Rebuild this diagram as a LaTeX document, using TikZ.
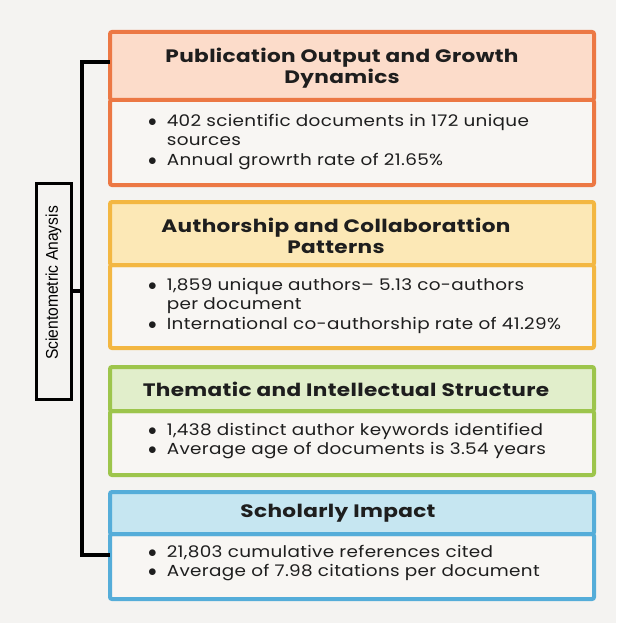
\documentclass[tikz,border=0pt]{standalone}
\usepackage{fontspec}
\setmainfont{Poppins}
\newfontfamily\bodyfont[FakeStretch=1.15,LetterSpace=2]{Poppins}
\newfontfamily\titlefont[FakeStretch=1.2,LetterSpace=2,BoldFont={* Bold}]{Poppins}
\newfontfamily\narrowfont[FakeStretch=0.92]{Liberation Sans}
\definecolor{bgc}{HTML}{F4F3F1}
\definecolor{bodyc}{HTML}{F8F6F3}
\definecolor{oc}{HTML}{EC7844}
\definecolor{oh}{HTML}{FCDCCA}
\definecolor{yc}{HTML}{F3B742}
\definecolor{yh}{HTML}{FCE8B6}
\definecolor{gc}{HTML}{9DC54C}
\definecolor{gh}{HTML}{E1EECB}
\definecolor{bc}{HTML}{55ADD9}
\definecolor{bh}{HTML}{C6E6F1}
\definecolor{txt}{HTML}{1E1E1E}
\tikzset{
  hdr/.style={anchor=north west, minimum width=484pt, line width=4pt, rounded corners=2pt, inner sep=0pt},
  ttl/.style={inner sep=0pt, align=center, text=txt, font=\titlefont\fontsize{18}{21}\selectfont\bfseries},
  bdy/.style={anchor=north west, minimum width=484pt, line width=4pt, rounded corners=2pt,
    fill=bodyc, inner sep=0pt},
  bl/.style={anchor=west, inner sep=0pt, text=txt, font=\bodyfont\fontsize{16}{19.3}\selectfont, align=left},
  conn/.style={line width=3.2pt, line cap=rect},
}
\newcommand{\bdot}{$\bullet$}
\newcommand{\btab}[1]{\begin{tabular}{@{}l@{\hspace{10pt}}l@{}}#1\end{tabular}}
\begin{document}
\begin{tikzpicture}[x=1pt,y=-1pt]
\fill[bgc] (0,0) rectangle (616,623);
\useasboundingbox (0,0) rectangle (616,623);

% panel 1
\node[bdy, draw=oc, minimum height=85pt] (d1) at (108,98) {};
\node[hdr, fill=oh, draw=oc, minimum height=68pt] (h1) at (108,30) {};
\node[ttl] (n1) at ([xshift=-10pt,yshift=-2pt]h1.center) {Publication Output and Growth\\Dynamics};
\node[bl] (t1) at (148,142) {\btab{\bdot & 402 scientific documents in 172 unique\\ & sources\\ \bdot & Annual growrth rate of 21.65\%}};

% panel 2
\node[bdy, draw=yc, minimum height=83pt] (d2) at (108,263) {};
\node[hdr, fill=yh, draw=yc, minimum height=63pt] (h2) at (108,200) {};
\node[ttl] (n2) at ([xshift=-16pt,yshift=-2pt]h2.center) {Authorship and Collaborattion\\Patterns};
\node[bl] (t2) at (148,306) {\btab{\bdot & 1,859 unique authors– 5.13 co-authors\\ & per document\\ \bdot & International co-authorship rate of 41.29\%}};

% panel 3
\node[bdy, draw=gc, minimum height=64pt] (d3) at (108,409) {};
\node[hdr, fill=gh, draw=gc, minimum height=44pt] (h3) at (108,365) {};
\node[ttl] (n3) at ([xshift=-6pt]h3.center) {Thematic and Intellectual Structure};
\node[bl] (t3) at (148,441) {\btab{\bdot & 1,438 distinct author keywords identified\\ \bdot & Average age of documents is 3.54 years}};

% panel 4
\node[bdy, draw=bc, minimum height=65pt] (d4) at (108,532) {};
\node[hdr, fill=bh, draw=bc, minimum height=42pt] (h4) at (108,490) {};
\node[ttl] (n4) at ([xshift=-14pt]h4.center) {Scholarly Impact};
\node[bl] (t4) at (148,563) {\btab{\bdot & 21,803 cumulative references cited\\ \bdot & Average of 7.98 citations per document}};

% label
\node[draw=black, line width=3pt, minimum width=35pt, minimum height=216pt, inner sep=0pt] (lab) at (53.5,291) {};
\node[inner sep=0pt, rotate=90] (labt) at ([yshift=8pt]lab.center)
  {\narrowfont\fontsize{17}{20}\selectfont Scientometric Anaysis};

% bracket
\coordinate (vt) at (82,62);
\coordinate (vb) at (82,555);
\coordinate (vm) at (82,291);
\draw[conn] (h1.west |- vt) -- (vt) -- (vb) -- (d4.west |- vb);
\draw[conn] (lab.east |- vm) -- (vm);
\end{tikzpicture}
\end{document}
